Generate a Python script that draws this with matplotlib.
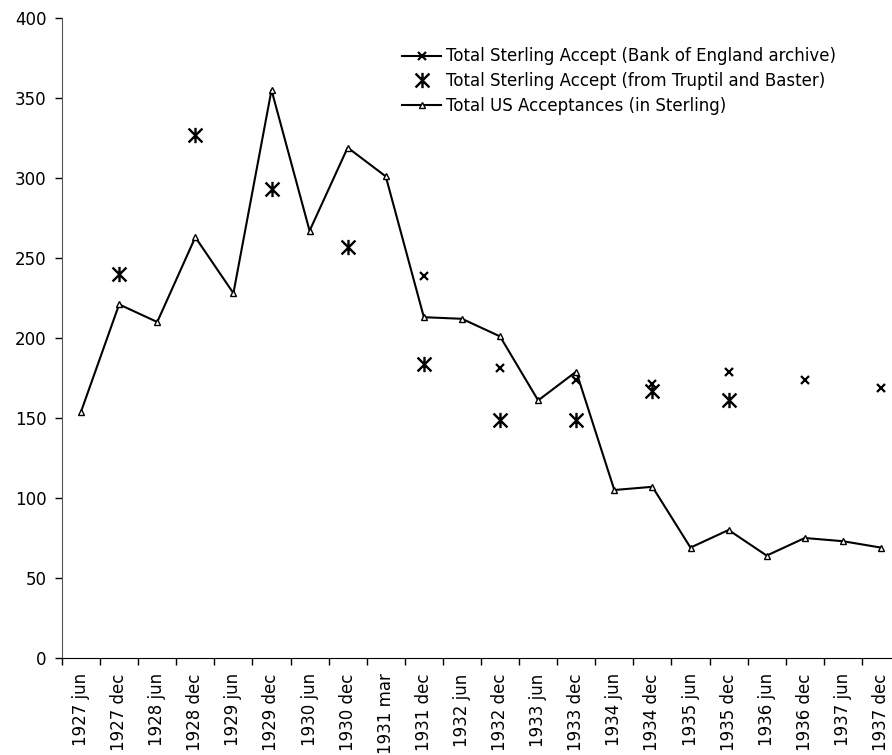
import numpy as np
import matplotlib
matplotlib.use("Agg")
import matplotlib.pyplot as plt
from matplotlib.lines import Line2D
from matplotlib.path import Path

nan = np.nan
categories = ["1927 jun", "1927 dec", "1928 jun", "1928 dec", "1929 jun", "1929 dec",
              "1930 jun", "1930 dec", "1931 mar", "1931 dec", "1932 jun", "1932 dec",
              "1933 jun", "1933 dec", "1934 jun", "1934 dec", "1935 jun", "1935 dec",
              "1936 jun", "1936 dec", "1937 jun", "1937 dec"]

boe_archive = [nan, nan, nan, nan, nan, nan, nan, nan, nan, 239, nan, 181,
               nan, 174, nan, 171, nan, 179, nan, 174, nan, 169]
truptil_baster = [nan, 240, nan, 327, nan, 293, nan, 257, nan, 184, nan, 149,
                  nan, 149, nan, 167, nan, 161, nan, nan, nan, nan]
us_acceptances = [154, 221, 210, 263, 228, 355, 267, 319, 301, 213, 212, 201,
                  161, 179, 105, 107, 69, 80, 64, 75, 73, 69]

labels = ["Total Sterling Accept (Bank of England archive)",
          "Total Sterling Accept (from Truptil and Baster)",
          "Total US Acceptances (in Sterling)"]

# X with a vertical bar
star = Path([(-1, -1), (1, 1), (-1, 1), (1, -1), (0, -1.1), (0, 1.1)],
            [Path.MOVETO, Path.LINETO, Path.MOVETO, Path.LINETO, Path.MOVETO, Path.LINETO])

FS = 12
W, H = 892, 755
fig = plt.figure(figsize=(W / 100, H / 100), dpi=100)
ax = fig.add_axes([62 / W, (H - 658) / H, (900 - 62) / W, 640 / H])

x = np.arange(len(categories))
ax.plot(x, us_acceptances, color="black", lw=1.5, marker="^", ms=5,
        mfc="white", mec="black", mew=1.0, label=labels[2], zorder=3)
ax.plot(x, boe_archive, color="black", lw=1.5, marker="x", ms=6, mew=1.6,
        label=labels[0], zorder=4)
ax.plot(x, truptil_baster, color="black", linestyle="none", marker=star,
        ms=11, mew=1.7, label=labels[1], zorder=4)

ax.set_xlim(-0.5, len(categories) - 0.5)
ax.set_ylim(0, 400)
ax.set_yticks(np.arange(0, 401, 50))
ax.set_xticks(x)
ax.set_xticklabels(categories, rotation=90, fontsize=FS)
ax.set_xticks(np.arange(-0.5, len(categories), 1), minor=True)
ax.tick_params(axis="x", which="major", length=0, pad=11)
ax.tick_params(axis="x", which="minor", length=5, width=1, direction="out")
ax.tick_params(axis="y", length=5, width=1, direction="out", labelsize=FS, pad=6)

for s in ["top", "right"]:
    ax.spines[s].set_visible(False)
ax.spines["left"].set_color("#555555")
ax.spines["bottom"].set_color("black")

handles = [
    Line2D([], [], color="black", lw=1.5, marker="x", ms=6, mew=1.6),
    Line2D([], [], color="black", linestyle="none", marker=star, ms=11, mew=1.7),
    Line2D([], [], color="black", lw=1.5, marker="^", ms=5, mfc="white", mec="black"),
]
fig.legend(handles, labels, loc="upper left", bbox_to_anchor=(394 / W, 1 - 39 / H),
           frameon=False, fontsize=FS, handlelength=2.3, handletextpad=0.3,
           labelspacing=0.4, borderpad=0)

fig.savefig("out.png", dpi=100)
